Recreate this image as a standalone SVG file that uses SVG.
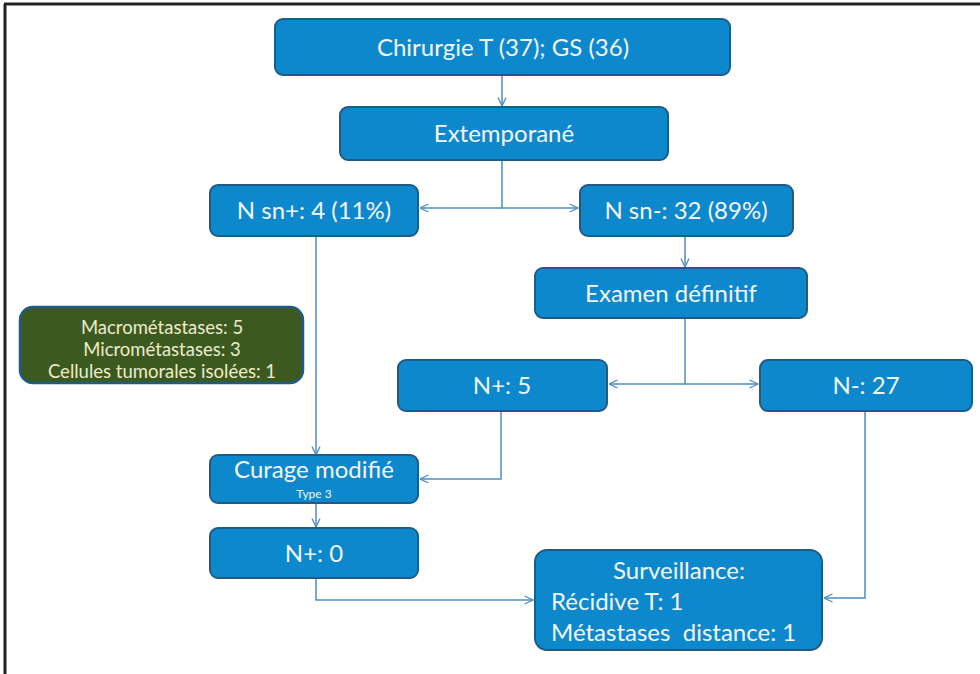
<svg xmlns="http://www.w3.org/2000/svg" width="980" height="674" viewBox="0 0 980 674">
  <style>
    .box { fill: #0E88CC; stroke: #1E5B86; stroke-width: 2; }
    .note { fill: #3C5A1F; stroke: #1E5B86; stroke-width: 2.5; }
    .t { font-family: Lato, "Open Sans", "Liberation Sans", sans-serif; fill: #F2F7FB; font-size: 24px; }
    .c { text-anchor: middle; }
    .small { font-size: 12px; }
    .nt { font-family: Lato, "Open Sans", "Liberation Sans", sans-serif; fill: #EDEBCB; font-size: 18.5px; text-anchor: middle; }
    .link { fill: none; stroke: #4C8DC4; stroke-width: 1.5; }
  </style>
  <defs>
    <marker id="arrow" viewBox="0 0 10 10" refX="9.5" refY="5" markerWidth="10" markerHeight="10" markerUnits="userSpaceOnUse" orient="auto">
      <path d="M1,1 L9.5,5 L1,9" fill="none" stroke="#4C8DC4" stroke-width="1.3"/>
    </marker>
  </defs>

  <rect width="980" height="674" fill="#FFFFFF"/>
  <!-- frame -->
  <line x1="4" y1="4" x2="980" y2="4" stroke="#222" stroke-width="3"/>
  <line x1="5" y1="4" x2="5" y2="674" stroke="#222" stroke-width="3"/>

  <g id="connectors">
    <path class="link" d="M502,75 V106" marker-end="url(#arrow)"/>
    <path class="link" d="M502,160 V208 H420" marker-end="url(#arrow)"/>
    <path class="link" d="M502,208 H578" marker-end="url(#arrow)"/>
    <path class="link" d="M685,236 V267" marker-end="url(#arrow)"/>
    <path class="link" d="M685,318 V384 H609" marker-end="url(#arrow)"/>
    <path class="link" d="M685,384 H758" marker-end="url(#arrow)"/>
    <path class="link" d="M316,236 V455" marker-end="url(#arrow)"/>
    <path class="link" d="M501,411 V479 H420" marker-end="url(#arrow)"/>
    <path class="link" d="M316,503 V527" marker-end="url(#arrow)"/>
    <path class="link" d="M316,578 V600 H533" marker-end="url(#arrow)"/>
    <path class="link" d="M865,411 V598 H824" marker-end="url(#arrow)"/>
  </g>

  <g id="chirurgie">
    <rect class="box" x="275" y="19" width="455" height="56" rx="8"/>
    <text class="t c" x="503" y="56">Chirurgie T (37); GS (36)</text>
  </g>
  <g id="extemporane">
    <rect class="box" x="340" y="107" width="328" height="53" rx="8"/>
    <text class="t c" x="504" y="142">Extemporané</text>
  </g>
  <g id="nsn-plus">
    <rect class="box" x="210" y="185" width="208" height="51" rx="8"/>
    <text class="t c" x="314" y="219">N sn+: 4 (11%)</text>
  </g>
  <g id="nsn-minus">
    <rect class="box" x="580" y="185" width="213" height="51" rx="8"/>
    <text class="t c" x="686" y="219">N sn-: 32 (89%)</text>
  </g>
  <g id="examen">
    <rect class="box" x="535" y="268" width="272" height="50" rx="8"/>
    <text class="t c" x="671" y="302">Examen définitif</text>
  </g>
  <g id="detail">
    <rect class="note" x="20" y="307" width="283" height="76" rx="13"/>
    <text class="nt" x="162" y="334">Macrométastases: 5</text>
    <text class="nt" x="162" y="356">Micrométastases: 3</text>
    <text class="nt" x="162" y="378">Cellules tumorales isolées: 1</text>
  </g>
  <g id="n-plus-5">
    <rect class="box" x="398" y="360" width="209" height="51" rx="8"/>
    <text class="t c" x="502" y="394">N+: 5</text>
  </g>
  <g id="n-minus-27">
    <rect class="box" x="760" y="360" width="212" height="51" rx="8"/>
    <text class="t c" x="866" y="394">N-: 27</text>
  </g>
  <g id="curage">
    <rect class="box" x="210" y="455" width="208" height="48" rx="8"/>
    <text class="t c" x="314" y="478">Curage modifié</text>
    <text class="t c small" x="314" y="498">Type 3</text>
  </g>
  <g id="n-plus-0">
    <rect class="box" x="210" y="528" width="208" height="50" rx="8"/>
    <text class="t c" x="314" y="562">N+: 0</text>
  </g>
  <g id="surveillance">
    <rect class="box" x="535" y="550" width="287" height="100" rx="12"/>
    <text class="t c" x="679" y="579">Surveillance:</text>
    <text class="t" x="551" y="610">Récidive T: 1</text>
    <text class="t" x="551" y="641" xml:space="preserve">Métastases  distance: 1</text>
  </g>
</svg>
